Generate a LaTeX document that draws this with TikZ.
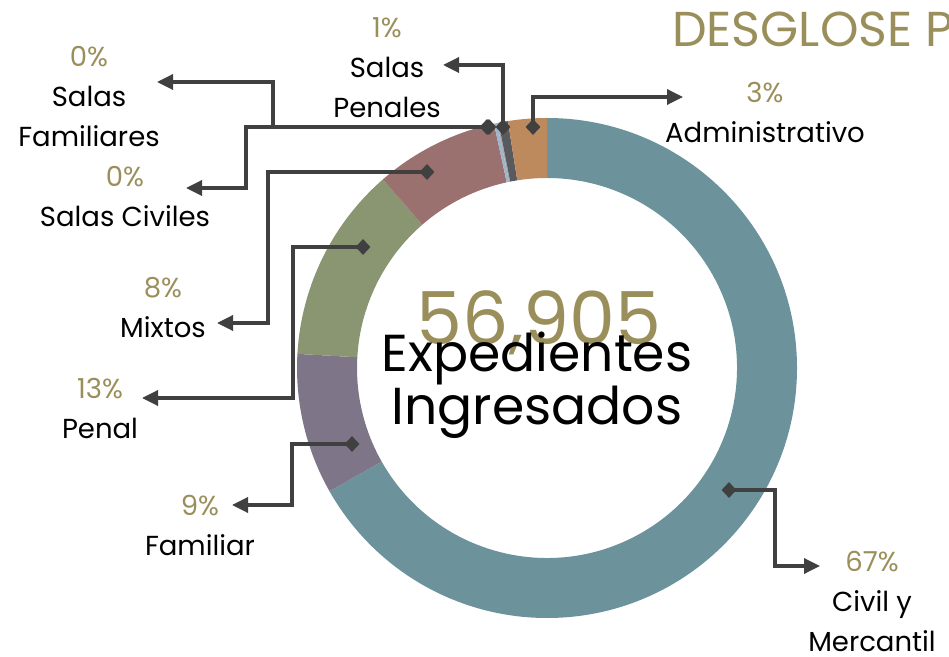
\documentclass[tikz,border=0pt]{standalone}
\usepackage{fontspec}
\setmainfont{Poppins}
\usetikzlibrary{arrows.meta,shapes.geometric}

\definecolor{civilc}{HTML}{6C939B}
\definecolor{familiarc}{HTML}{7F7589}
\definecolor{penalc}{HTML}{8A9571}
\definecolor{mixtosc}{HTML}{9B716F}
\definecolor{scivc}{HTML}{9DB5CD}
\definecolor{sfamc}{HTML}{A9A9AD}
\definecolor{spenc}{HTML}{595A5E}
\definecolor{adminc}{HTML}{BD8A5E}
\definecolor{olivec}{HTML}{9A8F5B}
\definecolor{linec}{HTML}{404040}

\begin{document}
\begin{tikzpicture}[x=1pt,y=1pt,
	leader/.style={draw=linec, line width=3.4pt, -{Triangle[length=16pt,width=15pt]}},
	dmark/.style={diamond, fill=linec, inner sep=0pt, minimum width=15pt, minimum height=16pt},
	lbl/.style={align=center, anchor=base, font=\fontsize{27.5}{40}\selectfont}]
		\useasboundingbox (0,0) rectangle (949,656);
		
		% ring
		\fill[civilc, shift={(547,288)}] (90:250) arc (90:-150.48:250) -- (-150.48:190) arc (-150.48:90:190) -- cycle;
		\fill[familiarc, shift={(547,288)}] (209.52:250) arc (209.52:176.76:250) -- (176.76:190) arc (176.76:209.52:190) -- cycle;
		\fill[penalc, shift={(547,288)}] (176.76:250) arc (176.76:131.04:250) -- (131.04:190) arc (131.04:176.76:190) -- cycle;
		\fill[mixtosc, shift={(547,288)}] (131.04:250) arc (131.04:102.24:250) -- (102.24:190) arc (102.24:131.04:190) -- cycle;
		\fill[scivc, shift={(547,288)}] (102.24:250) arc (102.24:101.52:250) -- (101.52:190) arc (101.52:102.24:190) -- cycle;
		\fill[sfamc, shift={(547,288)}] (101.52:250) arc (101.52:101.16:250) -- (101.16:190) arc (101.16:101.52:190) -- cycle;
		\fill[spenc, shift={(547,288)}] (101.16:250) arc (101.16:99:250) -- (99:190) arc (99:101.16:190) -- cycle;
		\fill[adminc, shift={(547,288)}] (99:250) arc (99:90:250) -- (90:190) arc (90:99:190) -- cycle;
		
		% markers on the ring
		\node[dmark] (dAdm) at (533,529) {};
		\node[dmark] (dSPen) at (503,529) {};
		\node[dmark] (dSFam) at (489,529) {};
		\node[dmark] (dSCiv) at (487,529) {};
		\node[dmark] (dMix) at (427,484) {};
		\node[dmark] (dPnl) at (363,409) {};
		\node[dmark] (dFml) at (352,212) {};
		\node[dmark] (dCvl) at (729,166) {};
		
		% corners and arrow ends
		\coordinate (tAdm) at (683,559);
		\coordinate (tSPen) at (443,591);
		\coordinate (kSFam) at (273,574);
		\coordinate (tSFam) at (157,574);
		\coordinate (kSCiv) at (246,468);
		\coordinate (tSCiv) at (186,468);
		\coordinate (kMix) at (268,333);
		\coordinate (tMix) at (217,333);
		\coordinate (kPnl) at (293,258);
		\coordinate (tPnl) at (142,258);
		\coordinate (kFml) at (292,151);
		\coordinate (tFml) at (232,151);
		\coordinate (kCvl) at (775,90);
		\coordinate (tCvl) at (820,90);
		
		\draw[leader] (dAdm.center) |- (tAdm);
		\draw[leader] (dSPen.center) |- (tSPen);
		\draw[leader] (dSFam.center) -| (kSFam) -- (tSFam);
		\draw[leader] (dSCiv.center) -| (kSCiv) -- (tSCiv);
		\draw[leader] (dMix.center) -| (kMix) -- (tMix);
		\draw[leader] (dPnl.center) -| (kPnl) -- (tPnl);
		\draw[leader] (dFml.center) -| (kFml) -- (tFml);
		\draw[leader] (dCvl.center) -| (kCvl) -- (tCvl);
		
		% labels (base = last line)
		\node[lbl] (lAdm) at (765,513) {\textcolor{olivec}{3\%}\\Administrativo};
		\node[lbl] (lSPen) at (387,538) {\textcolor{olivec}{1\%}\\Salas\\Penales};
		\node[lbl] (lSFam) at (89,509) {\textcolor{olivec}{0\%}\\Salas\\Familiares};
		\node[lbl] (lSCiv) at (125,429) {\textcolor{olivec}{0\%}\\Salas Civiles};
		\node[lbl] (lMix) at (163,318) {\textcolor{olivec}{8\%}\\Mixtos};
		\node[lbl] (lPnl) at (100,218) {\textcolor{olivec}{13\%}\\Penal};
		\node[lbl] (lFml) at (200,101) {\textcolor{olivec}{9\%}\\Familiar};
		\node[lbl] (lCvl) at (872,5) {\textcolor{olivec}{67\%}\\Civil y\\Mercantil};
		
		% centre and title
		\node[anchor=base, text=olivec, font=\fontsize{73}{73}\selectfont] (total) at (539,311) {56,905};
		\node[anchor=base, align=center, font=\fontsize{52}{40}\selectfont] (desc) at (537,231) {Expedientes\\Ingresados};
		\node[anchor=base west, inner sep=0pt, text=olivec, font=\fontsize{49}{49}\selectfont] (title) at (672,609) {DESGLOSE P};
		\end{tikzpicture}
\end{document}
